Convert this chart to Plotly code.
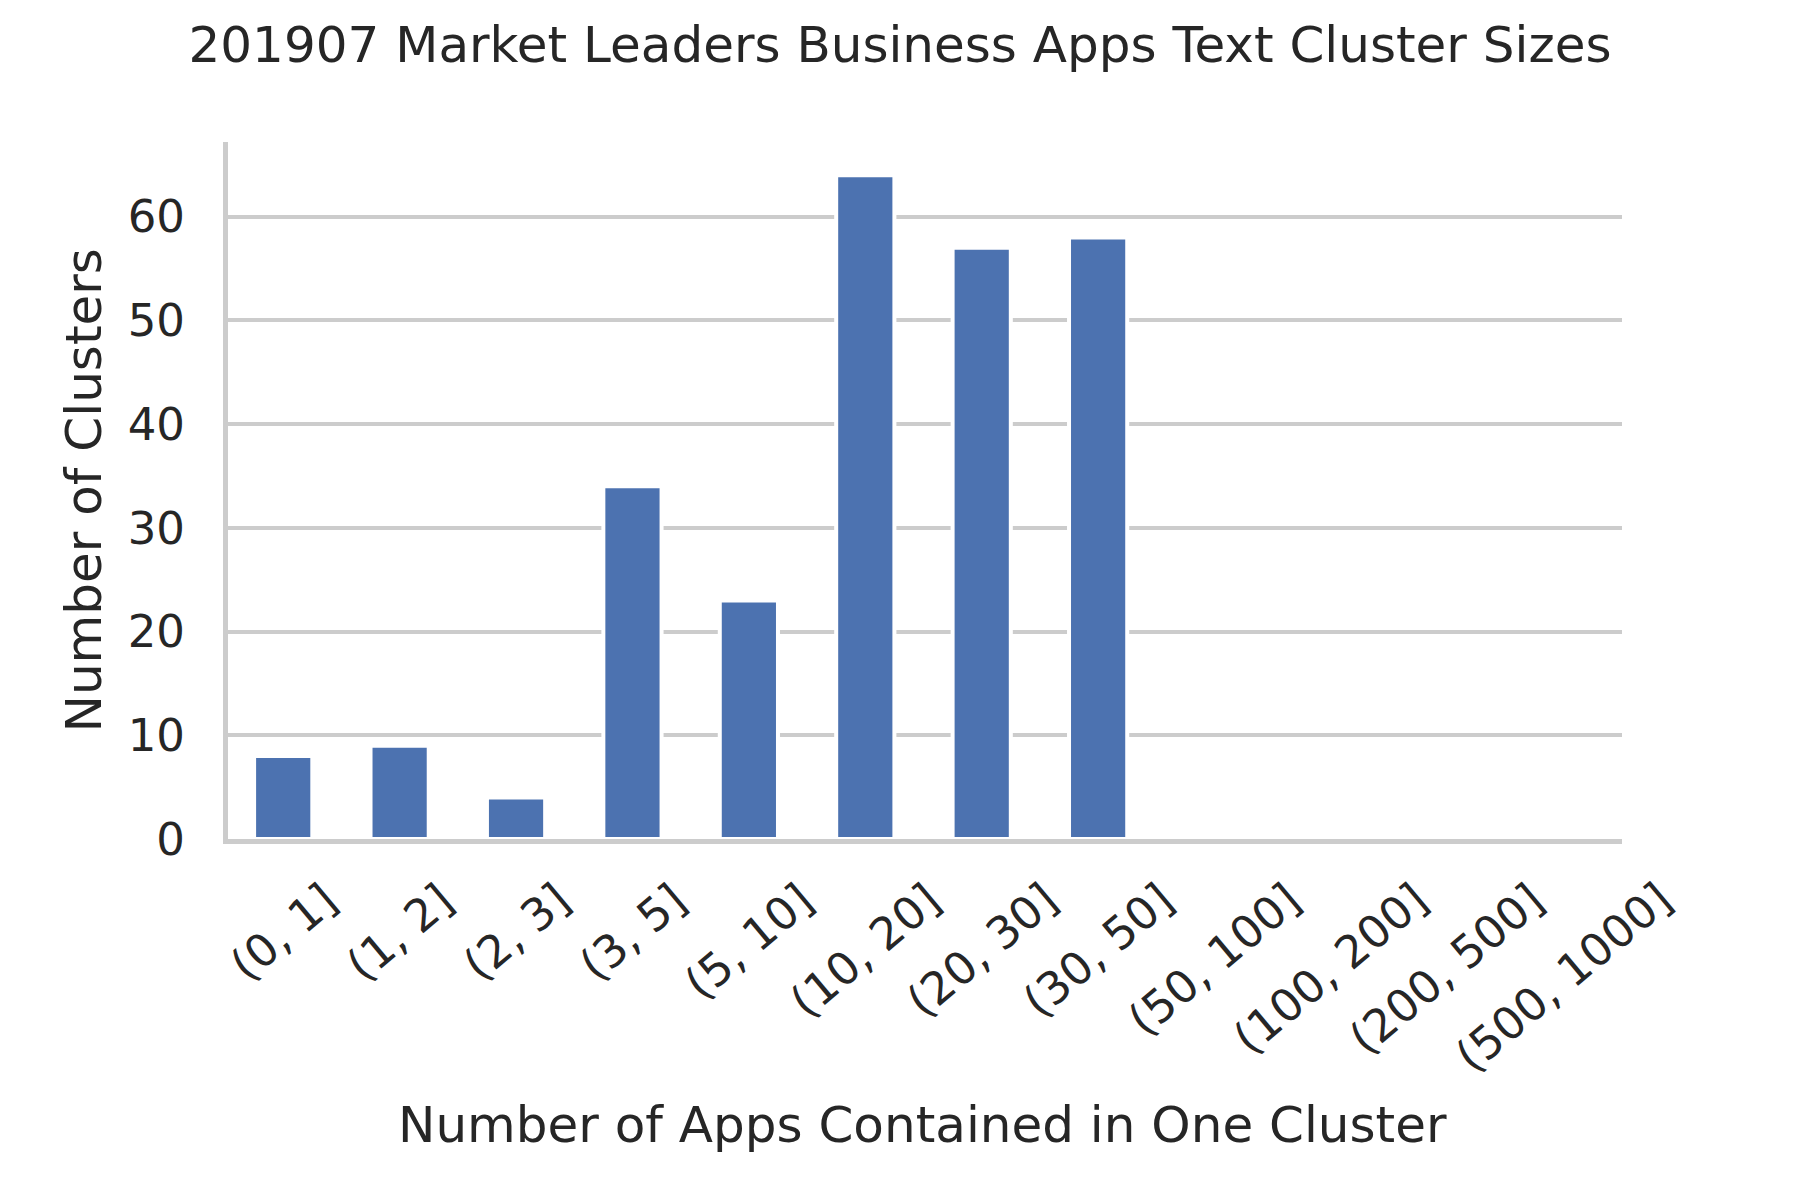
import plotly.graph_objects as go

# ---- data ----
categories = ["(0, 1]", "(1, 2]", "(2, 3]", "(3, 5]", "(5, 10]", "(10, 20]",
              "(20, 30]", "(30, 50]", "(50, 100]", "(100, 200]", "(200, 500]", "(500, 1000]"]
cluster_counts = [8, 9, 4, 34, 23, 64, 57, 58, 0, 0, 0, 0]
y_tick_values = [0, 10, 20, 30, 40, 50, 60]
title_text = "201907 Market Leaders Business Apps Text Cluster Sizes"
x_label = "Number of Apps Contained in One Cluster"
y_label = "Number of Clusters"

FONT = "DejaVu Sans"
TEXT_COLOR = "#262626"
GRID_COLOR = "#cccccc"
BAR_COLOR = "#4c72b0"

W, H = 1800, 1200
L, R, T, B = 228, 178, 142, 361
plot_w = W - L - R
plot_h = H - T - B

fig = go.Figure()
fig.add_trace(go.Bar(
    x=categories,
    y=cluster_counts,
    width=0.5,
    marker=dict(color=BAR_COLOR, line=dict(color="white", width=4)),
    showlegend=False,
))

# rotated, centred x tick labels (matplotlib style)
for cat in categories:
    fig.add_annotation(
        x=cat, xref="x", y=-(870 - (H - B)) / plot_h, yref="paper",
        text=cat, showarrow=False, textangle=-40,
        xanchor="center", yanchor="top",
        font=dict(family=FONT, size=45, color=TEXT_COLOR),
    )

# axis titles
fig.add_annotation(
    x=(922 - L) / plot_w, xref="paper", y=-(1125 - (H - B)) / plot_h, yref="paper",
    text=x_label, showarrow=False, xanchor="center", yanchor="middle",
    font=dict(family=FONT, size=50, color=TEXT_COLOR),
)
fig.add_annotation(
    x=(83 - L) / plot_w, xref="paper", y=0.5, yref="paper",
    text=y_label, showarrow=False, textangle=-90,
    xanchor="center", yanchor="middle",
    font=dict(family=FONT, size=50, color=TEXT_COLOR),
)

fig.update_layout(
    width=W, height=H,
    margin=dict(l=L, r=R, t=T, b=B, pad=0),
    paper_bgcolor="white", plot_bgcolor="white",
    font=dict(family=FONT, color=TEXT_COLOR),
    title=dict(text=title_text, x=0.5, xref="container", xanchor="center",
               y=1 - 44 / H, yref="container", yanchor="middle",
               font=dict(family=FONT, size=50, color=TEXT_COLOR)),
    bargap=0.5,
)

fig.update_xaxes(
    type="category", range=[-0.5 + 3 / 116.4, len(categories) - 0.5],
    showticklabels=False, showgrid=False, zeroline=False,
    showline=True, linecolor=GRID_COLOR, linewidth=5, ticks="",
)
fig.update_yaxes(
    range=[0, 67.2], tickvals=y_tick_values,
    ticktext=[str(v) for v in y_tick_values],
    showgrid=True, gridcolor=GRID_COLOR, gridwidth=4,
    zeroline=False, showline=True, linecolor=GRID_COLOR, linewidth=5,
    ticks="", ticklabelstandoff=29,
    tickfont=dict(family=FONT, size=45, color=TEXT_COLOR),
)

fig.write_html("out.html")
